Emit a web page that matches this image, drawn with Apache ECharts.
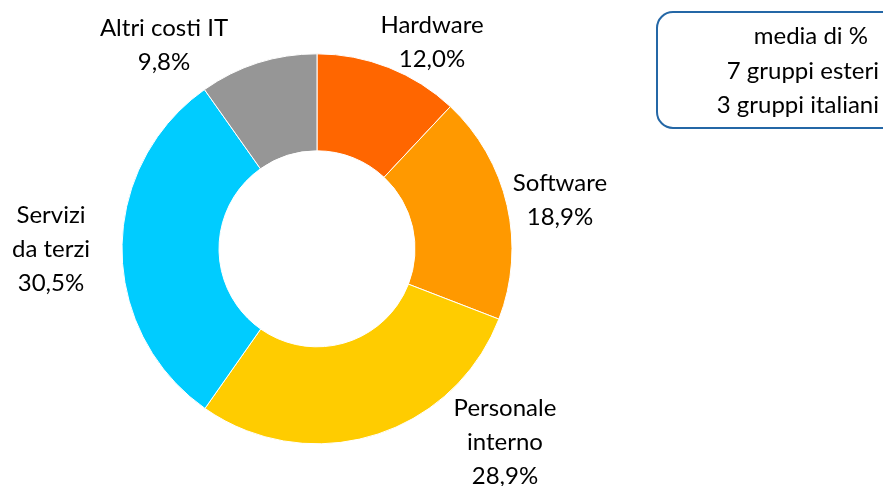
<!DOCTYPE html>
<html>
<head>
<meta charset="utf-8">
<style>
  html, body { margin: 0; padding: 0; background: #fff; }
  #chart { width: 883px; height: 486px; }
</style>
<script src="https://cdn.jsdelivr.net/npm/echarts@6/dist/echarts.min.js"></script>
</head>
<body>
<div id="chart"></div>
<script>
// dati del grafico
var categories = ['Hardware', 'Software', 'Personale\ninterno', 'Servizi\nda terzi', 'Altri costi IT'];
var values = [12.0, 18.9, 28.9, 30.5, 9.8];
var colors = ['#ff6600', '#ff9900', '#ffcc00', '#00ccff', '#969696'];
var legendLines = ['media di %', '7 gruppi esteri', '3 gruppi italiani'];

// posizione dei centri delle etichette
var labelPos = [[432, 42], [560, 200], [505, 442], [51, 249], [164, 45]];

var font = 'Lato, "Open Sans", sans-serif';
var chart = echarts.init(document.getElementById('chart'));

var pieData = categories.map(function (name, i) {
    return { name: name, value: values[i], itemStyle: { color: colors[i] } };
});

chart.setOption({
    animation: false,
    series: [{
        type: 'pie',
        center: ['35.9%', '51.2%'],
        radius: [98, 195],
        startAngle: 90,
        clockwise: true,
        itemStyle: { borderColor: '#fff', borderWidth: 1 },
        label: {
            show: true,
            position: 'outside',
            color: '#000',
            fontSize: 24,
            fontFamily: font,
            lineHeight: 34,
            align: 'center',
            overflow: 'none',
            formatter: function (p) {
                return p.name + '\n' + p.value.toFixed(1).replace('.', ',') + '%';
            }
        },
        labelLine: { show: false },
        labelLayout: function (params) {
            var pos = labelPos[params.dataIndex];
            return { x: pos[0], y: pos[1], align: 'center', verticalAlign: 'middle' };
        },
        emphasis: { disabled: true },
        data: pieData
    }],
    graphic: [
        {
            type: 'rect',
            shape: { x: 657, y: 12, width: 240, height: 116, r: 16 },
            style: { fill: 'none', stroke: '#2467a6', lineWidth: 2 }
        }
    ].concat(legendLines.map(function (t, i) {
        return {
            type: 'text',
            style: {
                text: t,
                x: i === 0 ? 868 : 879,
                y: [36, 71, 105][i],
                textAlign: 'right',
                textVerticalAlign: 'middle',
                fontSize: 24,
                fontFamily: font,
                fill: '#000'
            }
        };
    }))
});
</script>
</body>
</html>
